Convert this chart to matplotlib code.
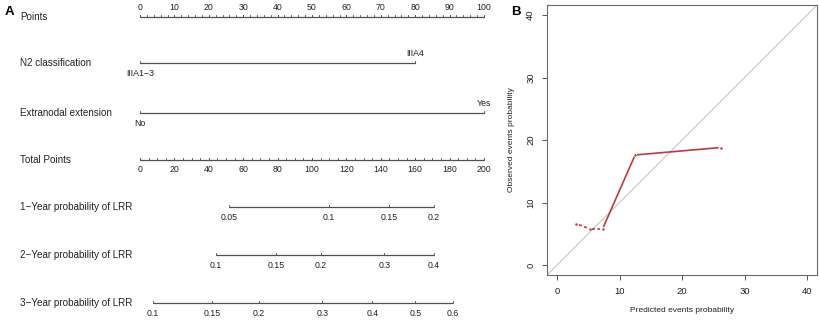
import matplotlib as mpl
mpl.use('Agg')
import matplotlib.pyplot as plt
import numpy as np

plt.rcParams['font.family'] = ['Liberation Sans', 'DejaVu Sans']

# nomogram data (points scale 0-100, total points 0-200)
row_names = ['Points', 'N2 classification', 'Extranodal extension', 'Total Points',
             '1\u2212Year probability of LRR', '2\u2212Year probability of LRR',
             '3\u2212Year probability of LRR']
n2_levels = ['IIIA1\u22123', 'IIIA4']
n2_points = [0, 80]
ene_levels = ['No', 'Yes']
ene_points = [0, 100]
prob1_labels = ['0.05', '0.1', '0.15', '0.2']
prob1_total = [52, 110, 145, 171]
prob2_labels = ['0.1', '0.15', '0.2', '0.3', '0.4']
prob2_total = [44, 79, 105, 142, 171]
prob3_labels = ['0.1', '0.15', '0.2', '0.3', '0.4', '0.5', '0.6']
prob3_total = [7.6, 42, 69, 106, 135, 160, 182]

# calibration data
pred = [3.1, 5.2, 7.3, 12.5, 26.2]
obs = [6.6, 5.8, 5.8, 17.6, 18.8]

W, H = 819, 320
fig = plt.figure(figsize=(W / 100, H / 100), dpi=100)

line_c = '#505050'
text_c = '#222222'
lab_fs = 7.1
tick_fs = 6.3
tl = 2.4  # tick length in pixel units

# ---- panel A: nomogram, axes in pixel-like units ----
ax = fig.add_axes([0, 0, 1, 1])
x0, scale = 140, 1.72  # pixel of 0 total points, pixels per total point
ax.set_xlim(-x0 / scale, (W - x0) / scale)
ax.set_ylim(H, 0)
ax.axis('off')
rows = [17, 63, 113, 160, 207, 255, 303]
label_x = -x0 / scale + 20 / scale

for name, y in zip(row_names, rows):
    ax.text(label_x, y, name, fontsize=lab_fs, color=text_c, va='center', ha='left')

def draw_axis(y, ticks, minor=None, labels=None, above=False, lab_off=10):
    ax.plot([min(ticks), max(ticks)], [y, y], color=line_c, lw=0.9, solid_capstyle='butt')
    allt = list(ticks) + (list(minor) if minor is not None else [])
    for t in allt:
        ax.plot([t, t], [y, y - tl], color=line_c, lw=0.6)
    if labels is not None:
        for t, s in zip(ticks, labels):
            ax.text(t, y - lab_off if above else y + lab_off, s, fontsize=tick_fs,
                    color=text_c, ha='center', va='center')

# Points
pts_major = np.arange(0, 101, 10)
pts_minor = np.arange(0, 101, 2)
draw_axis(rows[0], pts_major * 2, pts_minor * 2, [str(v) for v in pts_major], above=True)

# N2 classification
y = rows[1]
ax.plot([n2_points[0] * 2, n2_points[1] * 2], [y, y], color=line_c, lw=0.9)
for i, (lv, p) in enumerate(zip(n2_levels, n2_points)):
    ax.plot([p * 2, p * 2], [y, y - tl], color=line_c, lw=0.6)
    ax.text(p * 2, y + 11 if i == 0 else y - 10, lv, fontsize=tick_fs, color=text_c,
            ha='center', va='center')

# Extranodal extension
y = rows[2]
ax.plot([ene_points[0] * 2, ene_points[1] * 2], [y, y], color=line_c, lw=0.9)
for i, (lv, p) in enumerate(zip(ene_levels, ene_points)):
    ax.plot([p * 2, p * 2], [y, y - tl], color=line_c, lw=0.6)
    ax.text(p * 2, y + 10 if i == 0 else y - 10, lv, fontsize=tick_fs, color=text_c,
            ha='center', va='center')

# Total points
tot_major = np.arange(0, 201, 20)
tot_minor = np.arange(0, 201, 5)
draw_axis(rows[3], tot_major, tot_minor, [str(v) for v in tot_major])

# probability axes
draw_axis(rows[4], prob1_total, labels=prob1_labels)
draw_axis(rows[5], prob2_total, labels=prob2_labels)
draw_axis(rows[6], prob3_total, labels=prob3_labels)

fig.text(5 / W, 1 - 12 / H, 'A', fontsize=9.5, fontweight='bold', va='center', ha='left')
fig.text(511 / W, 1 - 12 / H, 'B', fontsize=9.5, fontweight='bold', va='center', ha='left')

# ---- panel B: calibration ----
ax2 = fig.add_axes([547 / W, 45 / H, 270 / W, 270 / H])
ax2.set_xlim(-1.6, 41.6)
ax2.set_ylim(-1.6, 41.6)
ax2.set_xticks(np.arange(0, 41, 10))
ax2.set_yticks(np.arange(0, 41, 10))
ax2.tick_params(length=3.5, width=0.7, color='#555555', labelsize=6.8, labelcolor=text_c, pad=5)
for lab in ax2.get_yticklabels():
    lab.set_rotation(90)
    lab.set_va('center')
for s in ax2.spines.values():
    s.set_color('#6a6a6a')
    s.set_linewidth(0.8)
ax2.axline((0, 0), (1, 1), color='#c8c8c8', lw=0.8)

red = '#c0393b'
gap = 0.45
px, py = np.array(pred), np.array(obs)
for i in range(len(px) - 1):
    dx, dy = px[i + 1] - px[i], py[i + 1] - py[i]
    d = np.hypot(dx, dy)
    ux, uy = dx / d, dy / d
    ls = (0, (1.8, 1.4)) if i < 2 else '-'
    ax2.plot([px[i] + gap * ux, px[i + 1] - gap * ux],
             [py[i] + gap * uy, py[i + 1] - gap * uy],
             color=red, lw=1.2, linestyle=ls)
ax2.plot(px, py, 'o', color=red, ms=1.8, mec='none')

ax2.set_xlabel('Predicted events probability', fontsize=6, color=text_c, labelpad=8)
ax2.set_ylabel('Observed events probability', fontsize=6, color=text_c, labelpad=8)

fig.savefig('out.png', dpi=100)
